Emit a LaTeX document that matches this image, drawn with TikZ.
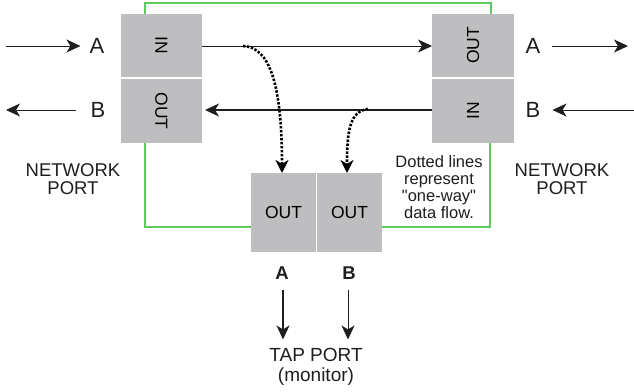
\documentclass[tikz,border=0pt]{standalone}
\usepackage{fontspec}
\setmainfont{Liberation Sans}
\usetikzlibrary{arrows.meta}
\definecolor{boxgray}{RGB}{190,190,192}
\definecolor{wire}{RGB}{95,200,95}
\definecolor{ink}{RGB}{30,30,30}
\tikzset{
  port/.style={fill=boxgray, draw=none, inner sep=0pt, outer sep=0pt, minimum width=81pt, font=\fontsize{17.5}{17.5}\selectfont},
  lbl/.style={inner sep=0pt, font=\fontsize{22}{22}\selectfont, text=ink},
  note/.style={inner sep=0pt, align=center, text=ink},
  flow/.style={draw=ink, line width=0.9pt, -{Stealth[length=14pt,width=13pt,inset=4pt]}},
  dots/.style={draw=black, line width=2.6pt, dash pattern=on 2.4pt off 1.6pt, -{Stealth[length=13pt,width=13pt,inset=4pt]}},
  green/.style={draw=wire, line width=1.1pt}
}
\begin{document}
\begin{tikzpicture}[x=1pt,y=-1pt]
\useasboundingbox (0,0) rectangle (634,391);
% ports
\node[port, minimum height=63pt] (lin)  at (161.5,45.5) {\rotatebox{-90}{IN}};
\node[port, minimum height=64pt] (lout) at (161.5,111)  {\rotatebox{-90}{OUT}};
\node[port, minimum width=82pt, minimum height=63pt] (rout) at (473,45.5) {\rotatebox{90}{OUT}};
\node[port, minimum width=82pt, minimum height=64pt] (rin)  at (473,111)  {\rotatebox{90}{IN}};
\node[port, minimum width=65pt, minimum height=79pt] (tapa) at (283.5,212.5) {OUT};
\node[port, minimum width=65pt, minimum height=79pt] (tapb) at (349.5,212.5) {OUT};
% green wiring
\draw[green] (lin.north -| 145,0) -- (145,3) -- (491,3) -- (rout.north -| 491,0);
\draw[green] (lout.south -| 145,0) -- (145,227) -- (tapa.west |- 0,227);
\draw[green] (tapb.east |- 0,227) -- (490,227) -- (rin.south -| 490,0);
% labels
\node[lbl] (la) at (97,46) {A};
\node[lbl] (lb) at (98,110) {B};
\node[lbl] (ra) at (533,46) {A};
\node[lbl] (rb) at (533,110) {B};
\node[lbl, font=\fontsize{18.5}{18.5}\selectfont\bfseries] (ta) at (282,273) {A};
\node[lbl, font=\fontsize{18.5}{18.5}\selectfont\bfseries] (tb) at (349,273) {B};
% outside arrows
\coordinate (lain) at (6,46);
\coordinate (lbout) at (6,110);
\coordinate (raout) at (628,46);
\coordinate (rbin) at (634,110);
\draw[flow] (lain) -- ([xshift=-9pt]la.west);
\draw[flow] ([xshift=-14pt]lb.west) -- (lbout);
\draw[flow] ([xshift=11pt]ra.east) -- (raout);
\draw[flow] (rbin) -- ([xshift=12pt]rb.east);
% main lines
\draw[flow, line width=0.8pt] (lin.east |- 0,46) -- (rout.west |- 0,46);
\draw[flow, line width=1.3pt] (rin.west |- 0,110) -- ([xshift=3pt]lout.east |- 0,110);
% tap arrows
\coordinate (tapaout) at (283,290);
\coordinate (tapbout) at (348,290);
\node[note, font=\fontsize{19}{19.5}\selectfont] (tap) at (316,367) {TAP PORT\\(monitor)};
\draw[flow, line width=1.2pt] (tapaout) -- ([yshift=9pt]tap.north -| tapaout);
\draw[flow, line width=0.8pt] (tapbout) -- ([yshift=9pt]tap.north -| tapbout);
% dotted one-way flows
\coordinate (tapa1) at (243,46);
\coordinate (tapb1) at (368,109);
\draw[dots] (tapa1) .. controls (270,47) and (282,85) .. (282,173);
\draw[dots] (tapb1) .. controls (350,111) and (347,130) .. (347,173);
% notes
\node[note, font=\fontsize{18.5}{17.5}\selectfont] (lnp) at (73,179) {NETWORK\\PORT};
\node[note, font=\fontsize{18.5}{17.5}\selectfont] (rnp) at (562,179) {NETWORK\\PORT};
\node[note, font=\fontsize{16.5}{17}\selectfont] (dl) at (439,187.5) {Dotted lines\\represent\\\textquotedbl one-way\textquotedbl\\data flow.};
\end{tikzpicture}
\end{document}
